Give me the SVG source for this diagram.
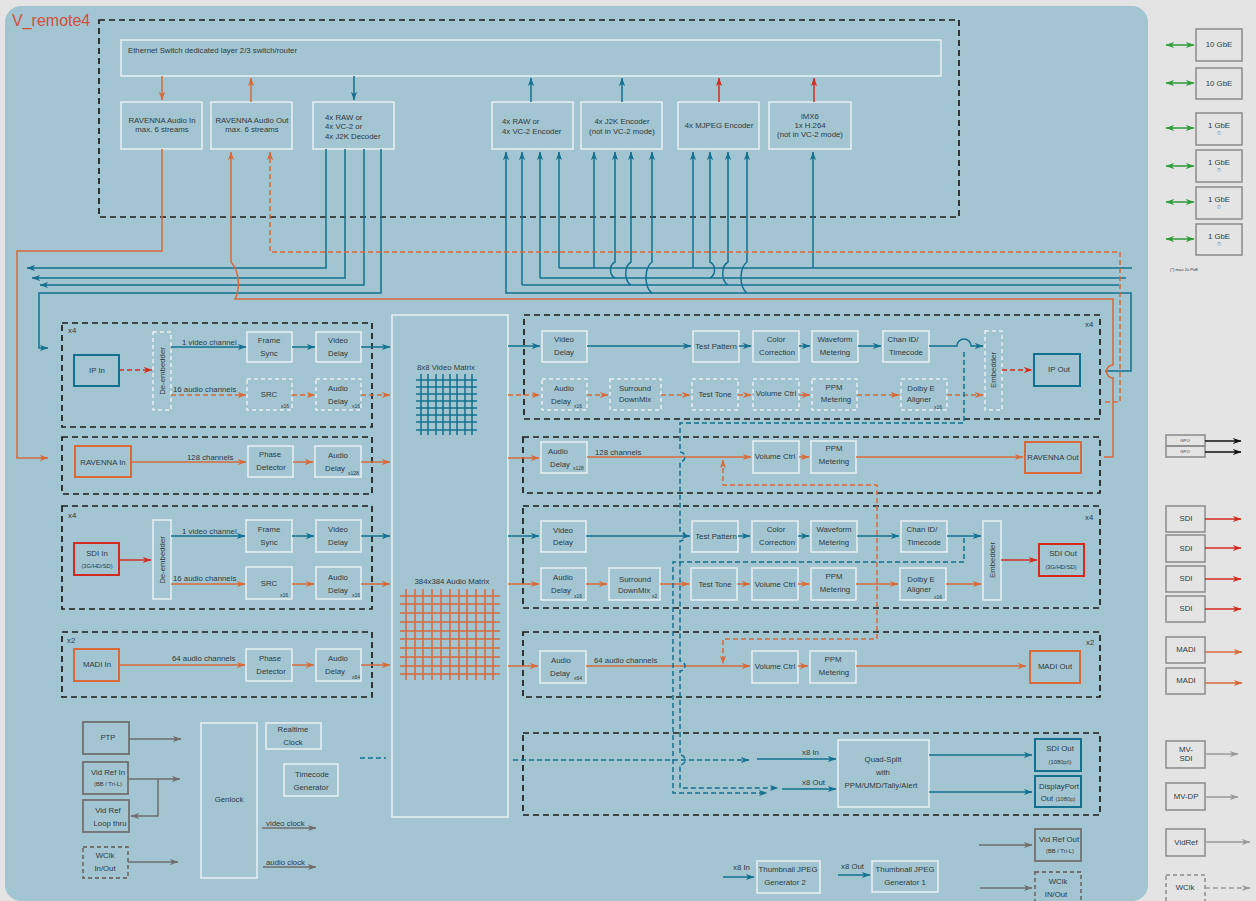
<svg xmlns="http://www.w3.org/2000/svg" width="1256" height="901" viewBox="0 0 1256 901">
<defs>
<style>
.p{fill:none;stroke:#e9f0f2;stroke-width:1.5}
.pd{fill:none;stroke:#e9f0f2;stroke-width:1.5;stroke-dasharray:4 3}
.s{fill:none;stroke:#1c1c1c;stroke-width:1.7;stroke-dasharray:6 4}
.t{font-family:"Liberation Sans",Arial,sans-serif;font-size:7.8px;fill:#2f3a40}
.m{text-anchor:middle}
.x{font-size:5px}
.y{font-size:5.8px}
.z{font-size:4.2px}
.zz{font-size:3px}
.b{fill:none;stroke:#13708f;stroke-width:1.5}
.o{fill:none;stroke:#d86a3a;stroke-width:1.5}
.r{fill:none;stroke:#d42b20;stroke-width:1.5}
.g{fill:none;stroke:#6d6d6d;stroke-width:1.5}
.lg{fill:none;stroke:#9a9a9a;stroke-width:1.5}
.gn{fill:none;stroke:#2f9b3a;stroke-width:1.5}
.k{fill:none;stroke:#111;stroke-width:1.5}
.d{stroke-dasharray:5 3}
.bb{fill:none;stroke:#13708f;stroke-width:2}
.ob{fill:none;stroke:#d86a3a;stroke-width:2}
.rb{fill:none;stroke:#d42b20;stroke-width:2}
.gb{fill:none;stroke:#707070;stroke-width:1.8}
.rp{fill:none;stroke:#8a8a8a;stroke-width:1.5}
.mb{marker-end:url(#ab)}
.mo{marker-end:url(#ao)}
.mr{marker-end:url(#ar)}
.mg{marker-end:url(#ag)}
.ml{marker-end:url(#al)}
.mk{marker-end:url(#ak)}
</style>
<marker id="ab" viewBox="0 0 10 8" refX="9.5" refY="4" markerWidth="9" markerHeight="7" markerUnits="userSpaceOnUse" orient="auto-start-reverse"><path d="M0,0.5 L10,4 L0,7.5 L3,4z" fill="#13708f"/></marker>
<marker id="ao" viewBox="0 0 10 8" refX="9.5" refY="4" markerWidth="9" markerHeight="7" markerUnits="userSpaceOnUse" orient="auto-start-reverse"><path d="M0,0.5 L10,4 L0,7.5 L3,4z" fill="#d86a3a"/></marker>
<marker id="ar" viewBox="0 0 10 8" refX="9.5" refY="4" markerWidth="9" markerHeight="7" markerUnits="userSpaceOnUse" orient="auto-start-reverse"><path d="M0,0.5 L10,4 L0,7.5 L3,4z" fill="#d42b20"/></marker>
<marker id="ag" viewBox="0 0 10 8" refX="9.5" refY="4" markerWidth="9" markerHeight="7" markerUnits="userSpaceOnUse" orient="auto-start-reverse"><path d="M0,0.5 L10,4 L0,7.5 L3,4z" fill="#6d6d6d"/></marker>
<marker id="al" viewBox="0 0 10 8" refX="9.5" refY="4" markerWidth="9" markerHeight="7" markerUnits="userSpaceOnUse" orient="auto-start-reverse"><path d="M0,0.5 L10,4 L0,7.5 L3,4z" fill="#9a9a9a"/></marker>
<marker id="ak" viewBox="0 0 10 8" refX="9.5" refY="4" markerWidth="9" markerHeight="7" markerUnits="userSpaceOnUse" orient="auto-start-reverse"><path d="M0,0.5 L10,4 L0,7.5 L3,4z" fill="#111"/></marker>
<marker id="an" viewBox="0 0 10 8" refX="9.5" refY="4" markerWidth="9" markerHeight="7" markerUnits="userSpaceOnUse" orient="auto-start-reverse"><path d="M0,0.5 L10,4 L0,7.5 L3,4z" fill="#2f9b3a"/></marker>
</defs>

<rect x="0" y="0" width="1256" height="901" fill="#e4e4e4"/>
<rect x="5" y="6" width="1143" height="895" rx="16" fill="#a3c5d1"/>
<text x="12" y="26" font-family="Liberation Sans,Arial,sans-serif" font-size="16" fill="#d0503c">V_remote4</text>

<!-- section frames -->
<g id="sections">
<rect class="s" x="99" y="20" width="860" height="197"/>
<rect class="s" x="62" y="323" width="310" height="104"/>
<rect class="s" x="62" y="437" width="310" height="57"/>
<rect class="s" x="62" y="506" width="310" height="103"/>
<rect class="s" x="62" y="632" width="310" height="65"/>
<rect class="s" x="524" y="315" width="576" height="104"/>
<rect class="s" x="523" y="437" width="577" height="56"/>
<rect class="s" x="523" y="506" width="577" height="102"/>
<rect class="s" x="523" y="632" width="577" height="65"/>
<rect class="s" x="523" y="733" width="577" height="82"/>
<text class="t" x="68" y="333">x4</text>
<text class="t" x="68" y="518">x4</text>
<text class="t" x="67" y="643">x2</text>
<text class="t" x="1085" y="327">x4</text>
<text class="t" x="1085" y="520">x4</text>
<text class="t" x="1086" y="645">x2</text>
</g>

<!-- top ethernet block -->
<g id="switch"><rect class="p" x="121" y="40" width="820" height="36"/><text class="t" x="128" y="53">Ethernet Switch dedicated layer 2/3 switch/router</text></g>
<g id="rav-audio-in"><rect class="p" x="121" y="102" width="81" height="47"/><text class="t m" x="162" y="123">RAVENNA Audio In</text><text class="t m" x="162" y="132">max. 6 streams</text></g>
<g id="rav-audio-out"><rect class="p" x="211" y="102" width="81" height="47"/><text class="t m" x="252" y="123">RAVENNA Audio Out</text><text class="t m" x="252" y="132">max. 6 streams</text></g>
<g id="decoder"><rect class="p" x="313" y="102" width="81" height="47"/><text class="t" x="325" y="119.5">4x RAW or</text><text class="t" x="325" y="129">4x VC-2 or</text><text class="t" x="325" y="138.5">4x J2K Decoder</text></g>
<g id="raw-encoder"><rect class="p" x="492" y="102" width="81" height="47"/><text class="t" x="502" y="124">4x RAW or</text><text class="t" x="502" y="134">4x VC-2 Encoder</text></g>
<g id="j2k-encoder"><rect class="p" x="581" y="102" width="81" height="47"/><text class="t m" x="622" y="124">4x J2K Encoder</text><text class="t m" x="622" y="134">(not in VC-2 mode)</text></g>
<g id="mjpeg-encoder"><rect class="p" x="678" y="102" width="81" height="47"/><text class="t m" x="719" y="128">4x MJPEG Encoder</text></g>
<g id="imx6"><rect class="p" x="769" y="102" width="82" height="47"/><text class="t m" x="810" y="119">iMX6</text><text class="t m" x="810" y="127.5">1x H.264</text><text class="t m" x="810" y="137">(not in VC-2 mode)</text></g>

<!-- input sections -->
<g id="ip-in"><rect class="bb" x="74" y="355" width="45" height="31"/><text class="t m" x="97" y="373">IP In</text></g>
<g id="deemb-1"><rect class="pd" x="153" y="332" width="18" height="78"/><text class="t m" transform="translate(165,371) rotate(-90)">De-embedder</text></g>
<g id="framesync-1"><rect class="p" x="247" y="332" width="45" height="30"/><text class="t m" x="269" y="343">Frame</text><text class="t m" x="269" y="356">Sync</text></g>
<g id="vdelay-1"><rect class="p" x="316" y="332" width="45" height="30"/><text class="t m" x="338" y="343">Video</text><text class="t m" x="338" y="356">Delay</text></g>
<g id="src-1"><rect class="pd" x="247" y="379" width="45" height="31"/><text class="t m" x="269" y="397">SRC</text><text class="t x" x="281" y="408">x16</text></g>
<g id="adelay-1"><rect class="pd" x="316" y="379" width="45" height="31"/><text class="t m" x="338" y="391">Audio</text><text class="t m" x="338" y="404">Delay</text><text class="t x" x="352" y="408">x16</text></g>

<g id="ravenna-in"><rect class="ob" x="75" y="446" width="56" height="31"/><text class="t m" x="103" y="465">RAVENNA In</text></g>
<g id="phase-1"><rect class="p" x="248" y="446" width="45" height="31"/><text class="t m" x="270" y="457">Phase</text><text class="t m" x="271" y="470">Detector</text></g>
<g id="adelay-2"><rect class="p" x="315" y="446" width="46" height="31"/><text class="t m" x="338" y="458">Audio</text><text class="t m" x="335" y="471">Delay</text><text class="t x" x="348" y="475">x128</text></g>

<g id="sdi-in"><rect class="rb" x="74" y="543" width="45" height="32"/><text class="t m" x="97" y="556">SDI In</text><text class="t m y" x="97" y="568">(3G/HD/SD)</text></g>
<g id="deemb-2"><rect class="p" x="153" y="520" width="18" height="79"/><text class="t m" transform="translate(165,560) rotate(-90)">De-embedder</text></g>
<g id="framesync-2"><rect class="p" x="246" y="520" width="46" height="32"/><text class="t m" x="269" y="532">Frame</text><text class="t m" x="269" y="545">Sync</text></g>
<g id="vdelay-2"><rect class="p" x="316" y="520" width="45" height="32"/><text class="t m" x="338" y="532">Video</text><text class="t m" x="338" y="545">Delay</text></g>
<g id="src-2"><rect class="p" x="246" y="567" width="46" height="32"/><text class="t m" x="269" y="586">SRC</text><text class="t x" x="280" y="597">x16</text></g>
<g id="adelay-3"><rect class="p" x="316" y="567" width="45" height="32"/><text class="t m" x="338" y="580">Audio</text><text class="t m" x="338" y="593">Delay</text><text class="t x" x="352" y="597">x16</text></g>

<g id="madi-in"><rect class="ob" x="74" y="649" width="45" height="32"/><text class="t m" x="97" y="667">MADI In</text></g>
<g id="phase-2"><rect class="p" x="246" y="649" width="46" height="32"/><text class="t m" x="270" y="661">Phase</text><text class="t m" x="271" y="674">Detector</text></g>
<g id="adelay-4"><rect class="p" x="316" y="649" width="45" height="32"/><text class="t m" x="338" y="661">Audio</text><text class="t m" x="335" y="674">Delay</text><text class="t x" x="352" y="679">x64</text></g>

<!-- matrix -->
<g id="matrix">
<rect class="p" x="392" y="315" width="116" height="502"/>
<text class="t m" x="446" y="370">8x8 Video Matrix</text>
<g stroke="#13708f" stroke-width="1.5">
<path d="M416,380H477M416,387H477M416,394H477M416,401H477M416,408H477M416,415H477M416,422H477M416,430H477"/>
<path d="M421,374V435M428,374V435M436,374V435M443,374V435M450,374V435M457,374V435M465,374V435M472,374V435"/>
</g>
<text class="t m" x="452" y="584">384x384 Audio Matrix</text>
<g stroke="#d86a3a" stroke-width="1.5">
<path d="M400,596H500M400,604H500M400,613H500M400,622H500M400,631H500M400,639H500M400,648H500M400,657H500M400,666H500M400,674H500"/>
<path d="M406,589V680M415,589V680M423,589V680M432,589V680M441,589V680M450,589V680M459,589V680M467,589V680M476,589V680M485,589V680M493,589V680"/>
</g>
</g>

<!-- output IP section -->
<g id="vdelay-o1"><rect class="p" x="542" y="331" width="45" height="31"/><text class="t m" x="564" y="342">Video</text><text class="t m" x="564" y="355">Delay</text></g>
<g id="testpat-1"><rect class="p" x="693" y="331" width="46" height="31"/><text class="t m" x="716" y="349">Test Pattern</text></g>
<g id="color-1"><rect class="p" x="753" y="331" width="46" height="31"/><text class="t m" x="776" y="342">Color</text><text class="t m" x="777" y="355">Correction</text></g>
<g id="wave-1"><rect class="p" x="812" y="331" width="46" height="31"/><text class="t m" x="835" y="342">Waveform</text><text class="t m" x="835" y="355">Metering</text></g>
<g id="chanid-1"><rect class="p" x="883" y="331" width="46" height="31"/><text class="t m" x="903" y="342">Chan ID/</text><text class="t m" x="906" y="355">Timecode</text></g>
<g id="emb-1"><rect class="pd" x="985" y="331" width="17" height="79"/><text class="t m" transform="translate(996,370) rotate(-90)">Embedder</text></g>
<g id="ip-out"><rect class="bb" x="1034" y="354" width="46" height="32"/><text class="t m" x="1059" y="372">IP Out</text></g>
<g id="adelay-o1"><rect class="pd" x="542" y="379" width="45" height="31"/><text class="t m" x="564" y="391">Audio</text><text class="t m" x="561" y="404">Delay</text><text class="t x" x="574" y="408">x16</text></g>
<g id="downmix-1"><rect class="pd" x="610" y="379" width="51" height="31"/><text class="t m" x="635" y="391">Surround</text><text class="t m" x="635" y="402">DownMix</text></g>
<g id="testtone-1"><rect class="pd" x="692" y="379" width="46" height="31"/><text class="t m" x="715" y="397">Test Tone</text></g>
<g id="vol-1"><rect class="pd" x="753" y="379" width="46" height="31"/><text class="t m" x="776" y="396">Volume Ctrl</text></g>
<g id="ppm-1"><rect class="pd" x="812" y="379" width="45" height="31"/><text class="t m" x="834" y="390">PPM</text><text class="t m" x="836" y="402">Metering</text></g>
<g id="dolby-1"><rect class="pd" x="901" y="379" width="46" height="31"/><text class="t m" x="921" y="391">Dolby E</text><text class="t m" x="919" y="402">Aligner</text><text class="t x" x="934" y="409">x16</text></g>

<!-- RAVENNA out section -->
<g id="adelay-o2"><rect class="p" x="541" y="442" width="46" height="31"/><text class="t m" x="558" y="454">Audio</text><text class="t m" x="560" y="467">Delay</text><text class="t x" x="573" y="470">x128</text></g>
<text class="t" x="595" y="455">128 channels</text>
<g id="vol-2"><rect class="p" x="753" y="441" width="46" height="32"/><text class="t m" x="775" y="459">Volume Ctrl</text></g>
<g id="ppm-2"><rect class="p" x="811" y="441" width="45" height="32"/><text class="t m" x="834" y="451">PPM</text><text class="t m" x="834" y="464">Metering</text></g>
<g id="ravenna-out"><rect class="ob" x="1025" y="442" width="56" height="31"/><text class="t m" x="1053" y="460">RAVENNA Out</text></g>

<!-- SDI out section -->
<g id="vdelay-o3"><rect class="p" x="541" y="521" width="45" height="31"/><text class="t m" x="563" y="533">Video</text><text class="t m" x="563" y="545">Delay</text></g>
<g id="testpat-2"><rect class="p" x="692" y="521" width="46" height="31"/><text class="t m" x="716" y="539">Test Pattern</text></g>
<g id="color-2"><rect class="p" x="752" y="521" width="46" height="31"/><text class="t m" x="776" y="532">Color</text><text class="t m" x="777" y="545">Correction</text></g>
<g id="wave-2"><rect class="p" x="811" y="521" width="46" height="31"/><text class="t m" x="834" y="532">Waveform</text><text class="t m" x="834" y="545">Metering</text></g>
<g id="chanid-2"><rect class="p" x="901" y="521" width="46" height="31"/><text class="t m" x="922" y="532">Chan ID/</text><text class="t m" x="924" y="545">Timecode</text></g>
<g id="emb-2"><rect class="p" x="983" y="521" width="18" height="79"/><text class="t m" transform="translate(995,560) rotate(-90)">Embedder</text></g>
<g id="sdi-out"><rect class="rb" x="1039" y="544" width="45" height="32"/><text class="t m" x="1063" y="556">SDI Out</text><text class="t m y" x="1061" y="569">(3G/HD/SD)</text></g>
<g id="adelay-o3"><rect class="p" x="541" y="568" width="45" height="32"/><text class="t m" x="563" y="580">Audio</text><text class="t m" x="561" y="593">Delay</text><text class="t x" x="574" y="598">x16</text></g>
<g id="downmix-2"><rect class="p" x="609" y="568" width="51" height="32"/><text class="t m" x="635" y="582">Surround</text><text class="t m" x="634" y="593">DownMix</text><text class="t x" x="652" y="598">x2</text></g>
<g id="testtone-2"><rect class="p" x="691" y="568" width="46" height="32"/><text class="t m" x="715" y="587">Test Tone</text></g>
<g id="vol-3"><rect class="p" x="752" y="568" width="46" height="32"/><text class="t m" x="775" y="587">Volume Ctrl</text></g>
<g id="ppm-3"><rect class="p" x="811" y="568" width="45" height="32"/><text class="t m" x="834" y="579">PPM</text><text class="t m" x="835" y="592">Metering</text></g>
<g id="dolby-2"><rect class="p" x="900" y="568" width="46" height="32"/><text class="t m" x="921" y="582">Dolby E</text><text class="t m" x="919" y="592">Aligner</text><text class="t x" x="934" y="599">x16</text></g>

<!-- MADI out section -->
<g id="adelay-o4"><rect class="p" x="540" y="651" width="46" height="32"/><text class="t m" x="561" y="663">Audio</text><text class="t m" x="560" y="676">Delay</text><text class="t x" x="574" y="680">x64</text></g>
<text class="t" x="594" y="663">64 audio channels</text>
<g id="vol-4"><rect class="p" x="752" y="651" width="46" height="32"/><text class="t m" x="775" y="669">Volume Ctrl</text></g>
<g id="ppm-4"><rect class="p" x="810" y="651" width="46" height="32"/><text class="t m" x="833" y="662">PPM</text><text class="t m" x="834" y="675">Metering</text></g>
<g id="madi-out"><rect class="ob" x="1030" y="651" width="50" height="32"/><text class="t m" x="1055" y="669">MADI Out</text></g>

<!-- quad split section -->
<g id="quad"><rect class="p" x="838" y="740" width="91" height="67"/><text class="t m" x="883" y="762">Quad-Split</text><text class="t m" x="883" y="775">with</text><text class="t m" x="881" y="788">PPM/UMD/Tally/Alert</text></g>
<g id="sdi-out-mv"><rect class="bb" x="1035" y="739" width="46" height="32"/><text class="t m" x="1060" y="751">SDI Out</text><text class="t m y" x="1060" y="764">(1080p/i)</text></g>
<g id="dp-out"><rect class="bb" x="1035" y="776" width="46" height="31"/><text class="t m" x="1059" y="789">DisplayPort</text><text class="t m" x="1058" y="801">Out <tspan class="y">(1080p)</tspan></text></g>
<text class="t" x="802" y="755">x8 In</text>
<text class="t" x="802" y="785">x8 Out</text>

<!-- bottom nodes -->
<g id="vidref-out"><rect class="gb" x="1035" y="829" width="46" height="32"/><text class="t m" x="1059" y="842">Vid Ref Out</text><text class="t m y" x="1060" y="853">(BB / Tri-L)</text></g>
<g id="wclk-out"><rect class="gb" x="1035" y="872" width="46" height="36" stroke-dasharray="4 3"/><text class="t m" x="1058" y="884">WClk</text><text class="t m" x="1056" y="897">IN/Out</text></g>
<g id="thumb-2"><rect class="p" x="757" y="861" width="63" height="32"/><text class="t m" x="788" y="872">Thumbnail JPEG</text><text class="t m" x="785" y="885">Generator 2</text></g>
<g id="thumb-1"><rect class="p" x="872" y="861" width="66" height="31"/><text class="t m" x="905" y="872">Thumbnail JPEG</text><text class="t m" x="905" y="885">Generator 1</text></g>
<text class="t" x="733" y="870">x8 In</text>
<text class="t" x="841" y="869">x8 Out</text>

<g id="ptp"><rect class="gb" x="83" y="722" width="46" height="32"/><text class="t m" x="108" y="740">PTP</text></g>
<g id="vidref-in"><rect class="gb" x="83" y="762" width="45" height="32"/><text class="t m" x="108" y="775">Vid Ref In</text><text class="t m y" x="108" y="786">(BB / Tri-L)</text></g>
<g id="vidref-loop"><rect class="gb" x="83" y="800" width="46" height="32"/><text class="t m" x="108" y="813">Vid Ref</text><text class="t m" x="110" y="826">Loop thru</text></g>
<g id="wclk-in"><rect class="gb" x="83" y="847" width="45" height="31" stroke-dasharray="4 3"/><text class="t m" x="105" y="858">WClk</text><text class="t m" x="105" y="871">In/Out</text></g>
<g id="genlock"><rect class="p" x="201" y="723" width="56" height="155"/><text class="t m" x="229" y="802">Genlock</text></g>
<g id="rtc"><rect class="p" x="266" y="723" width="55" height="26"/><text class="t m" x="293" y="732">Realtime</text><text class="t m" x="293" y="745">Clock</text></g>
<g id="tcgen"><rect class="p" x="284" y="764" width="54" height="32"/><text class="t m" x="312" y="777">Timecode</text><text class="t m" x="311" y="790">Generator</text></g>
<text class="t" x="266" y="826">video clock</text>
<text class="t" x="266" y="865">audio clock</text>

<!-- right panel -->
<g id="ports">
<g id="p-10g-1"><rect class="rp" x="1196" y="29" width="46" height="32"/><text class="t m" x="1219" y="47">10 GbE</text></g>
<g id="p-10g-2"><rect class="rp" x="1196" y="68" width="46" height="31"/><text class="t m" x="1219" y="86">10 GbE</text></g>
<g id="p-1g-1"><rect class="rp" x="1196" y="113" width="46" height="32"/><text class="t m" x="1219" y="128">1 GbE</text><text class="t m zz" x="1219" y="134">(*)</text></g>
<g id="p-1g-2"><rect class="rp" x="1196" y="150" width="46" height="32"/><text class="t m" x="1219" y="165">1 GbE</text><text class="t m zz" x="1219" y="171">(*)</text></g>
<g id="p-1g-3"><rect class="rp" x="1196" y="187" width="46" height="32"/><text class="t m" x="1219" y="202">1 GbE</text><text class="t m zz" x="1219" y="208">(*)</text></g>
<g id="p-1g-4"><rect class="rp" x="1196" y="224" width="46" height="31"/><text class="t m" x="1219" y="239">1 GbE</text><text class="t m zz" x="1219" y="245">(*)</text></g>
<text class="t z" x="1170" y="271">(*) max 2x PoE</text>
<g id="p-gpo"><rect class="rp" x="1166" y="435" width="39" height="11"/><rect class="rp" x="1166" y="446" width="39" height="11"/><text class="t m z" x="1185" y="442">GPO</text><text class="t m z" x="1185" y="453">GPO</text></g>
<g id="p-sdi"><rect class="rp" x="1166" y="506" width="39" height="26"/><rect class="rp" x="1166" y="535" width="39" height="27"/><rect class="rp" x="1166" y="566" width="39" height="26"/><rect class="rp" x="1166" y="596" width="39" height="26"/>
<text class="t m" x="1186" y="521">SDI</text><text class="t m" x="1186" y="551">SDI</text><text class="t m" x="1186" y="581">SDI</text><text class="t m" x="1186" y="611">SDI</text></g>
<g id="p-madi"><rect class="rp" x="1166" y="637" width="39" height="26"/><rect class="rp" x="1166" y="668" width="39" height="26"/><text class="t m" x="1186" y="652">MADI</text><text class="t m" x="1186" y="683">MADI</text></g>
<g id="p-mvsdi"><rect class="rp" x="1166" y="741" width="39" height="27"/><text class="t m" x="1186" y="752">MV-</text><text class="t m" x="1186" y="761">SDI</text></g>
<g id="p-mvdp"><rect class="rp" x="1166" y="783" width="39" height="27"/><text class="t m" x="1186" y="799">MV-DP</text></g>
<g id="p-vidref"><rect class="rp" x="1166" y="829" width="39" height="27"/><text class="t m" x="1186" y="845">VidRef</text></g>
<g id="p-wclk"><rect class="rp" x="1166" y="875" width="39" height="30" stroke-dasharray="4 3"/><text class="t m" x="1185" y="890">WClk</text></g>
</g>

<!-- connectors -->
<g id="connectors">
<path class="o mo" d="M162,76V100"/>
<path class="o mo" d="M251,102V78"/>
<path class="b mb" d="M354,76V100"/>
<path class="b mb" d="M531,102V78"/>
<path class="b mb" d="M622,102V78"/>
<path class="r mr" d="M719,102V78"/>
<path class="r mr" d="M814,102V78"/>
<path class="o mo" d="M162,149V251H17V458H48"/>
<path class="b mb" d="M326,149V268H27"/>
<path class="b mb" d="M345,149V278H32"/>
<path class="b mb" d="M364,149V285H40"/>
<path class="b mb" d="M381,149V293H39V348H48"/>
<path class="b" d="M559,268H1132"/>
<path class="b" d="M540,278H1126"/>
<path class="b" d="M522,285H1119"/>
<path class="b mb" d="M1105,371H1131V293H506V152"/>
<path class="b mb" d="M522,285V152"/>
<path class="b mb" d="M540,278V152"/>
<path class="b mb" d="M559,268V152"/>
<path class="b mb" d="M594,268V152"/>
<path class="b mb" d="M615,278C609,275 609,265 615,262V152"/>
<path class="b mb" d="M631,285C624,281 624,266 631,262V152"/>
<path class="b mb" d="M652,293C644,287 644,268 652,262V152"/>
<path class="b mb" d="M693,268V152"/>
<path class="b mb" d="M710,278C716,275 716,265 710,262V152"/>
<path class="b mb" d="M728,285C721,281 721,266 728,262V152"/>
<path class="b mb" d="M747,293C739,287 739,268 747,262V152"/>
<path class="b mb" d="M813,268V152"/>
<path class="o mo" d="M1104,457H1113V378a6.5,6.5 0 0 1 0,-13V299H235C240,290 240,272 231,262V152"/>
<path class="o d mo" d="M1105,402H1120V252H270V152"/>

<path class="r d mr" d="M119,370H152"/>
<text class="t" x="182" y="345">1 video channel</text>
<path class="b mb" d="M171,347H246"/>
<path class="b mb" d="M292,347H315"/>
<path class="b mb" d="M361,347H390"/>
<text class="t" x="173" y="392">16 audio channels</text>
<path class="o d mo" d="M171,395H246"/>
<path class="o d mo" d="M292,395H315"/>
<path class="o d mo" d="M361,395H390"/>
<text class="t" x="187" y="460">128 channels</text>
<path class="o mo" d="M131,462H246"/>
<path class="o mo" d="M293,462H313"/>
<path class="o mo" d="M361,462H390"/>
<path class="r mr" d="M119,560H151"/>
<text class="t" x="182" y="534">1 video channel</text>
<path class="b mb" d="M171,536H245"/>
<path class="b mb" d="M292,536H314"/>
<path class="b mb" d="M361,536H390"/>
<text class="t" x="173" y="581">16 audio channels</text>
<path class="o mo" d="M171,584H245"/>
<path class="o mo" d="M292,584H314"/>
<path class="o mo" d="M361,584H390"/>
<text class="t" x="172" y="661">64 audio channels</text>
<path class="o mo" d="M119,665H245"/>
<path class="o mo" d="M292,665H314"/>
<path class="o mo" d="M361,665H390"/>

<path class="b mb" d="M508,346H540"/>
<path class="b mb" d="M587,346H691"/>
<path class="b mb" d="M739,346H751"/>
<path class="b mb" d="M799,346H810"/>
<path class="b mb" d="M858,346H881"/>
<path class="b mb" d="M929,346H957a7,7 0 0 1 14,0H983"/>
<path class="r d mr" d="M1002,370H1032"/>
<path class="o d mo" d="M508,395H540"/>
<path class="o d mo" d="M587,395H608"/>
<path class="o d mo" d="M661,395H690"/>
<path class="o d mo" d="M738,395H751"/>
<path class="o d mo" d="M799,395H810"/>
<path class="o d mo" d="M857,395H899"/>
<path class="o d mo" d="M947,395H983"/>
<path class="o mo" d="M508,458H539"/>
<path class="o mo" d="M587,457H751"/>
<path class="o mo" d="M799,457H809"/>
<path class="o mo" d="M856,457H1023"/>
<path class="o d mo" d="M723,460V485H877V639H723V664" marker-start="url(#ao)"/>
<path class="b mb" d="M508,536H539"/>
<path class="b mb" d="M586,536H690"/>
<path class="b mb" d="M738,536H750"/>
<path class="b mb" d="M798,536H809"/>
<path class="b mb" d="M857,536H899"/>
<path class="b mb" d="M947,536H981"/>
<path class="r mr" d="M1001,560H1037"/>
<path class="o mo" d="M508,584H539"/>
<path class="o mo" d="M586,584H607"/>
<path class="o mo" d="M660,584H689"/>
<path class="o mo" d="M737,584H750"/>
<path class="o mo" d="M798,584H809"/>
<path class="o mo" d="M856,584H898"/>
<path class="o mo" d="M946,584H981"/>
<path class="o mo" d="M508,666H538"/>
<path class="o mo" d="M586,666H750"/>
<path class="o mo" d="M798,666H808"/>
<path class="o mo" d="M856,666H1026"/>
<path class="b d mb" d="M964,352V423H680V452a5,5 0 0 1 0,10V531a5,5 0 0 1 0,10V661a5,5 0 0 1 0,10V755a5,5 0 0 1 0,10V788H778"/>
<path class="b d mb" d="M964,538V562H673V793H767"/>
<path class="b d" d="M360,758H386"/>
<path class="b d mb" d="M513,760H749"/>
<path class="b mb" d="M757,759H836"/>
<path class="b mb" d="M782,789H836"/>
<path class="b mb" d="M929,755H1032"/>
<path class="b mb" d="M929,792H1032"/>
<path class="g mg" d="M979,845H1032"/>
<path class="g mg" d="M980,888H1032"/>
<path class="b mb" d="M723,877H754"/>
<path class="b mb" d="M838,875H870"/>
<path class="g mg" d="M129,739H181"/>
<path class="g mg" d="M128,779H180"/>
<path class="g mg" d="M158,779V816H131"/>
<path class="g mg" d="M128,862H178"/>
<path class="g mg" d="M262,828H316"/>
<path class="g mg" d="M263,867H316"/>
<g marker-start="url(#an)" marker-end="url(#an)" class="gn">
<path d="M1166,45H1194"/><path d="M1166,83H1194"/><path d="M1166,128H1194"/><path d="M1166,166H1194"/><path d="M1166,202H1194"/><path d="M1166,239H1194"/>
</g>
<path class="k mk" d="M1205,441H1241"/>
<path class="k mk" d="M1205,452H1241"/>
<path class="r mr" d="M1205,519H1241"/>
<path class="r mr" d="M1205,548H1241"/>
<path class="r mr" d="M1205,579H1241"/>
<path class="r mr" d="M1205,609H1241"/>
<path class="o mo" d="M1205,652H1242"/>
<path class="o mo" d="M1205,683H1242"/>
<path class="lg ml" d="M1205,754H1238"/>
<path class="lg ml" d="M1205,797H1238"/>
<path class="lg ml" d="M1205,842H1250"/>
<path class="lg d ml" d="M1205,888H1250"/>
</g>
</svg>
